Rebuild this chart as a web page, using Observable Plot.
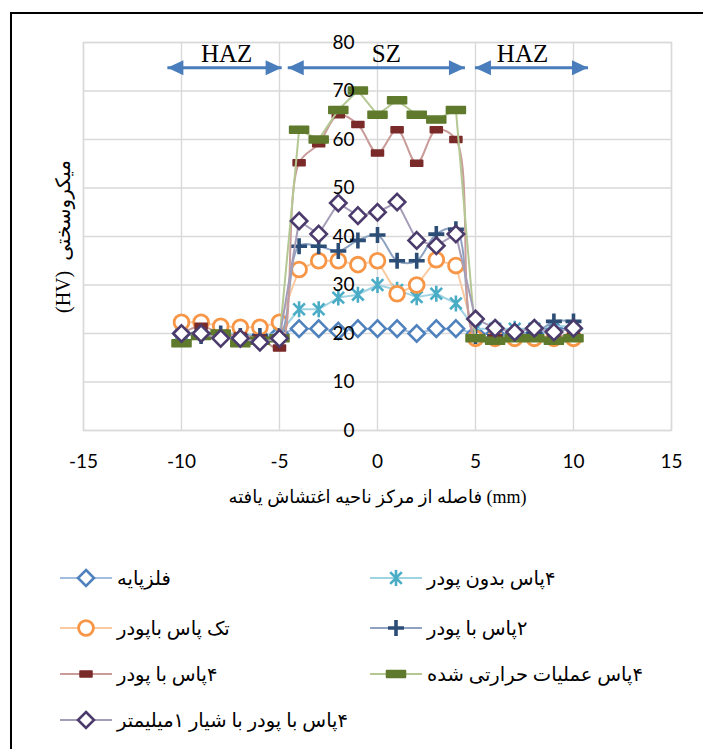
<!DOCTYPE html>
<html><head><meta charset="utf-8">
<script src="https://cdn.jsdelivr.net/npm/d3@7"></script>
<script src="https://cdn.jsdelivr.net/npm/@observablehq/plot@0.6"></script>
<style>
html,body{margin:0;padding:0;background:#fff;overflow:hidden;width:703px;height:749px;position:relative}
#chart{position:absolute;left:0;top:0}
#chart svg{background:transparent !important}
#frame{position:absolute;left:10px;top:12px;width:760px;height:800px;border:2px solid #000;box-sizing:border-box;pointer-events:none}
.item{position:absolute;display:flex;align-items:center;height:26px}
.item svg{display:block}
.item span{font-family:"Liberation Serif","DejaVu Sans",serif;font-size:19.5px;direction:rtl;unicode-bidi:embed;white-space:nowrap;margin-left:5px;color:#000}
</style></head><body>
<div id="chart"></div>
<div id="legend"></div>
<div id="frame"></div>
<script>
// ---- data ----
const xs = [-10,-9,-8,-7,-6,-5,-4,-3,-2,-1,0,1,2,3,4,5,6,7,8,9,10];
const baseMetal     = [20,20,20,19.5,19.5,20, 21,21,20.5,21,21,21,20,21,21, 20,20,20,20,21,21];
const fourPassNoPwd = [20,20,20,20,19.5,20, 25,25,27.4,28,30,29,27.5,28.2,26.2, 21,21,21,21,21.5,21.5];
const singlePassPwd = [22.3,22.3,21.5,21.3,21.3,22.3, 33.2,35,35,34.2,35,28.2,30,35.2,34, 19,19,19,19,19,19];
const twoPassPwd    = [20,19.5,20,19.5,19.5,19.5, 38,38,37,39.2,40.3,35,35,40.5,41.5, 19.5,19.5,20,20,22.5,22.5];
const fourPassPwd   = [20,21.5,20,19.5,19,17, 55.2,59.1,65.1,63.1,57.2,62,55.1,62,60, 19,19,19,19,19.5,19.5];
const heatTreated   = [18,19.5,20,18,18.5,19, 62,60,66.1,70.1,65.1,68.1,65.1,64.1,66.1, 19,18.5,19,19,18.5,19];
const grooved       = [20,20,19,19,18.2,19, 43.2,40.5,46.9,44.3,45,47.1,39.2,38.1,40.5, 23,21.1,20.3,21.1,20.3,21.1];
const seriesNames = ["فلزپایه","۴پاس بدون پودر","تک پاس باپودر","۲پاس با پودر","۴پاس با پودر","۴پاس عملیات حرارتی شده","۴پاس با پودر با شیار ۱میلیمتر"];
const xTicks = [-15,-10,-5,0,5,10,15];
const yTicks = [0,10,20,30,40,50,60,70,80];
const zoneLabels = ["HAZ","SZ","HAZ"];
const zoneStart = [-10.72,-4.58,4.97];
const zoneEnd   = [-4.89,4.46,10.74];
const zoneLabelX = [-7.7,0.45,7.4];
const zoneArrowY = 74.8;
const zoneLabelY = 77.7;
const xTitle = "فاصله از مرکز ناحیه اغتشاش یافته (mm)";
const yTitle = "(HV)  میکروسختی";

// ---- symbols ----
const diamondSym = {draw(c){const r=8.2;c.moveTo(0,-r);c.lineTo(r,0);c.lineTo(0,r);c.lineTo(-r,0);c.closePath();}};
const circleSym = {draw(c){const r=7.4;c.moveTo(r,0);c.arc(0,0,r,0,2*Math.PI);c.closePath();}};
const asteriskSym = {draw(c){const r=8,d=5.8;c.moveTo(0,-r);c.lineTo(0,r);c.moveTo(-d,-d);c.lineTo(d,d);c.moveTo(-d,d);c.lineTo(d,-d);}};
const plusSym = {draw(c){const r=8;c.moveTo(-r,0);c.lineTo(r,0);c.moveTo(0,-r);c.lineTo(0,r);}};
const rectSym = (w,h)=>({draw(c){c.rect(-w/2,-h/2,w,h);}});
const rightHead = {draw(c){c.moveTo(0,0);c.lineTo(-16,-7.5);c.lineTo(-16,7.5);c.closePath();}};
const leftHead = {draw(c){c.moveTo(0,0);c.lineTo(16,-7.5);c.lineTo(16,7.5);c.closePath();}};

const series = [
  {values: baseMetal,     line:"#a3bddf", curve:"linear",      dot:{symbol:diamondSym, fill:"white", stroke:"#4f81bd", strokeWidth:2.6}, key:"diamond", color:"#4f81bd"},
  {values: fourPassNoPwd, line:"#9fd3e2", curve:"linear",      dot:{symbol:asteriskSym, fill:"none", stroke:"#4bacc6", strokeWidth:2.6}, key:"asterisk", color:"#4bacc6"},
  {values: singlePassPwd, line:"#fbc9a0", curve:"linear",      dot:{symbol:circleSym, fill:"white", stroke:"#f79646", strokeWidth:2.8}, key:"circle", color:"#f79646"},
  {values: twoPassPwd,    line:"#8ea3c2", curve:"catmull-rom", dot:{symbol:plusSym, fill:"none", stroke:"#2c4d76", strokeWidth:3.6}, key:"plus", color:"#2c4d76"},
  {values: fourPassPwd,   line:"#c99b99", curve:"catmull-rom", dot:{symbol:rectSym(12,6), fill:"#7a2b29", stroke:"#7a2b29", strokeWidth:1.5, strokeLinejoin:"round"}, key:"rect", color:"#7a2b29"},
  {values: heatTreated,   line:"#b5c894", curve:"linear",      dot:{symbol:rectSym(19,7), fill:"#5f7a2c", stroke:"#5f7a2c", strokeWidth:1.5, strokeLinejoin:"round"}, key:"bar", color:"#5f7a2c"},
  {values: grooved,       line:"#a59db8", curve:"linear",      dot:{symbol:diamondSym, fill:"white", stroke:"#4b3b6c", strokeWidth:2.6}, key:"diamond", color:"#4b3b6c"}
];

const font = "Lato, 'Liberation Sans', sans-serif";
const serifFont = "'Liberation Serif','DejaVu Sans',serif";
const marks = [
  Plot.ruleX(xTicks, {x: d=>d, stroke:"#d9d9d9", strokeWidth:1.4}),
  Plot.ruleY(yTicks, {y: d=>d, stroke:"#d9d9d9", strokeWidth:1.4}),
  Plot.frame({stroke:"#d9d9d9", strokeWidth:1.4}),
  Plot.text(xTicks, {x: d=>d, y: 0, dy: 31, text: d=>String(d), fontSize:19, fontFamily:font, fill:"#000"})
];
for (const s of series) {
  const rows = xs.map((x,i)=>({x, y: s.values[i]}));
  marks.push(Plot.line(rows, {x:"x", y:"y", stroke:s.line, strokeWidth:2, curve:s.curve}));
  marks.push(Plot.dot(rows, {x:"x", y:"y", ...s.dot}));
}
const zones = zoneLabels.map((t,i)=>({t, x1: zoneStart[i], x2: zoneEnd[i], lx: zoneLabelX[i]}));
marks.push(
  Plot.link(zones, {x1:"x1", x2:"x2", y1: zoneArrowY, y2: zoneArrowY, stroke:"#4a7dbb", strokeWidth:3}),
  Plot.dot(zones, {x:"x1", y: zoneArrowY, symbol:leftHead, fill:"#4a7dbb", stroke:"none"}),
  Plot.dot(zones, {x:"x2", y: zoneArrowY, symbol:rightHead, fill:"#4a7dbb", stroke:"none"}),
  Plot.text(zones, {x:"lx", y: zoneLabelY, text:"t", fontSize:25, fontFamily:"'Liberation Serif', serif", fill:"#000"}),
  Plot.text(yTicks, {x: 0, y: d=>d, text: d=>String(d), textAnchor:"end", dx:-23, fontSize:19, fontFamily:font, fill:"#000"}),
  Plot.text([xTitle], {frameAnchor:"bottom", textAnchor:"middle", lineAnchor:"middle", dy:67, text: d=>d, fontSize:18, fontFamily:serifFont, fill:"#000"}),
  Plot.text([yTitle], {frameAnchor:"left", textAnchor:"middle", lineAnchor:"middle", dx:-20, rotate:-90, text: d=>d, fontSize:20, fontFamily:serifFont, fill:"#000"})
);

const chart = Plot.plot({
  width: 703, height: 520,
  marginLeft: 83, marginRight: 32, marginTop: 42, marginBottom: 90,
  x: {domain: [-15, 15], axis: null},
  y: {domain: [0, 80], axis: null},
  style: {background: "transparent", overflow: "visible"},
  marks
});
document.getElementById("chart").appendChild(chart);

// ---- legend ----
function markerSvg(s) {
  const c = 26, cy = 13;
  let m = "";
  if (s.key === "diamond") m = `<path d="M${c},${cy-8} L${c+8},${cy} L${c},${cy+8} L${c-8},${cy} Z" fill="white" stroke="${s.color}" stroke-width="2.6"/>`;
  else if (s.key === "circle") m = `<circle cx="${c}" cy="${cy}" r="7.4" fill="white" stroke="${s.color}" stroke-width="2.8"/>`;
  else if (s.key === "asterisk") m = `<path d="M${c},${cy-8} V${cy+8} M${c-5.8},${cy-5.8} L${c+5.8},${cy+5.8} M${c-5.8},${cy+5.8} L${c+5.8},${cy-5.8}" stroke="${s.color}" stroke-width="2.6" fill="none"/>`;
  else if (s.key === "plus") m = `<path d="M${c-8},${cy} H${c+8} M${c},${cy-8} V${cy+8}" stroke="${s.color}" stroke-width="3.6" fill="none"/>`;
  else if (s.key === "rect") m = `<rect x="${c-6}" y="${cy-3}" width="12" height="6" fill="${s.color}" stroke="${s.color}" stroke-width="1.5" stroke-linejoin="round"/>`;
  else if (s.key === "bar") m = `<rect x="${c-9.5}" y="${cy-3.5}" width="19" height="7" fill="${s.color}" stroke="${s.color}" stroke-width="1.5" stroke-linejoin="round"/>`;
  return `<svg width="52" height="26"><line x1="0" y1="${cy}" x2="52" y2="${cy}" stroke="${s.line}" stroke-width="2"/>${m}</svg>`;
}
const colX = [60, 370];
const rowY = [578, 628, 674, 720];
const legend = document.getElementById("legend");
series.forEach((s,i)=>{
  const d = document.createElement("div");
  d.className = "item";
  d.style.left = colX[i%2] + "px";
  d.style.top = (rowY[Math.floor(i/2)] - 13) + "px";
  d.innerHTML = markerSvg(s) + `<span>${seriesNames[i]}</span>`;
  legend.appendChild(d);
});
</script>
</body></html>
